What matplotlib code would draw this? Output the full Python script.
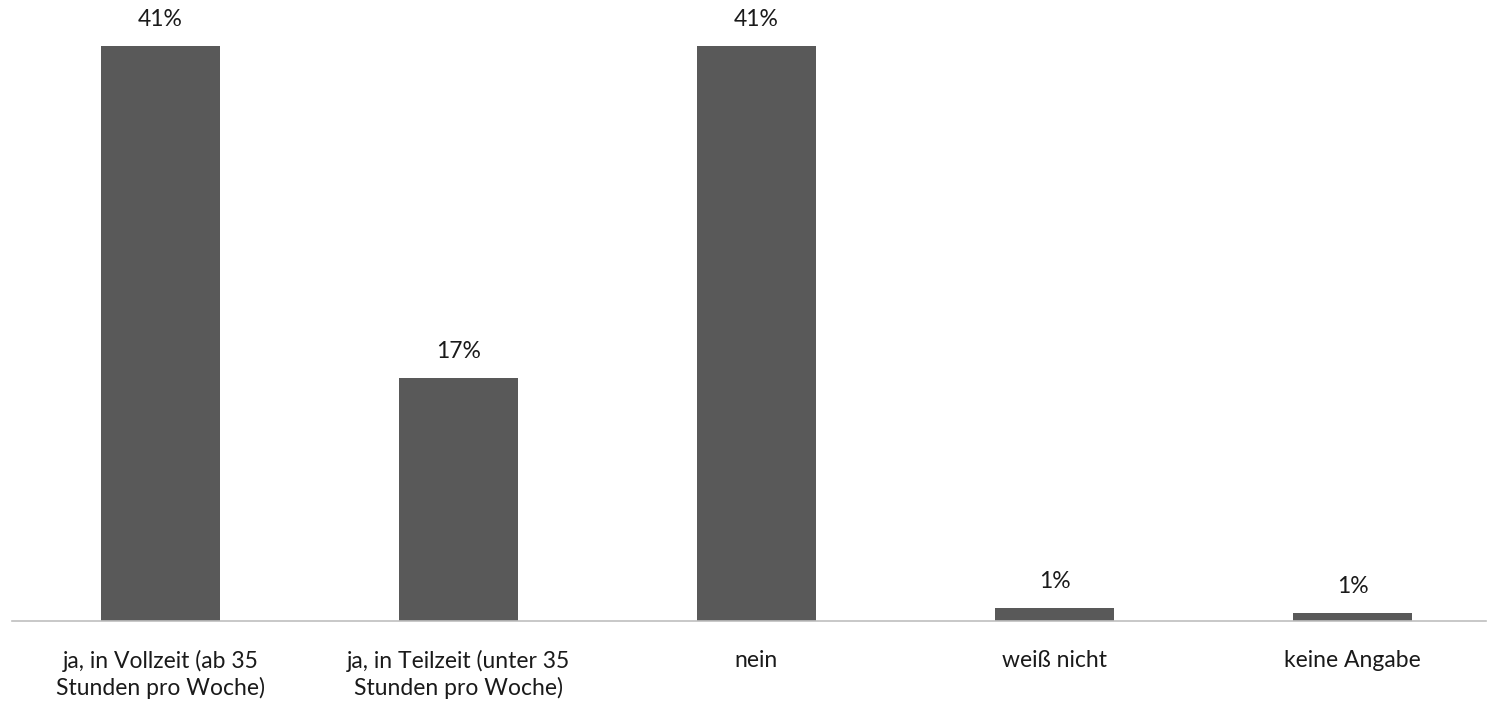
import matplotlib
matplotlib.use("Agg")
import matplotlib.pyplot as plt

categories = ["ja, in Vollzeit (ab 35\nStunden pro Woche)",
              "ja, in Teilzeit (unter 35\nStunden pro Woche)",
              "nein", "weiß nicht", "keine Angabe"]
values = [41.0, 17.3, 41.0, 0.9, 0.6]
labels = ["41%", "17%", "41%", "1%", "1%"]

plt.rcParams['font.family'] = ['Lato', 'DejaVu Sans']

W, H = 1487, 703
fig = plt.figure(figsize=(W / 100, H / 100), dpi=100)
ax = fig.add_axes([12 / W, (H - 621) / H, (1486 - 12) / W, 575 / H])

x = list(range(len(categories)))
ax.bar(x, values, width=0.4, color="#595959", zorder=2)
ax.set_ylim(0, 41.0)
ax.set_xlim(-0.498, 4.448)

for xi, v, lab in zip(x, values, labels):
    ax.annotate(lab, (xi, v), xytext=(0, 11.5), textcoords="offset points",
                ha="center", va="bottom", fontsize=16.5, color="#1a1a1a",
                annotation_clip=False)

for s in ["top", "right", "left"]:
    ax.spines[s].set_visible(False)
ax.spines["bottom"].set_color("#BFBFBF")
ax.spines["bottom"].set_linewidth(1.2)
ax.set_yticks([])
ax.set_xticks(x)
ax.set_xticklabels(categories, fontsize=16.5, color="#1a1a1a", linespacing=1.25)
ax.tick_params(axis="x", length=0, pad=21)

fig.savefig("out.png", dpi=100)
